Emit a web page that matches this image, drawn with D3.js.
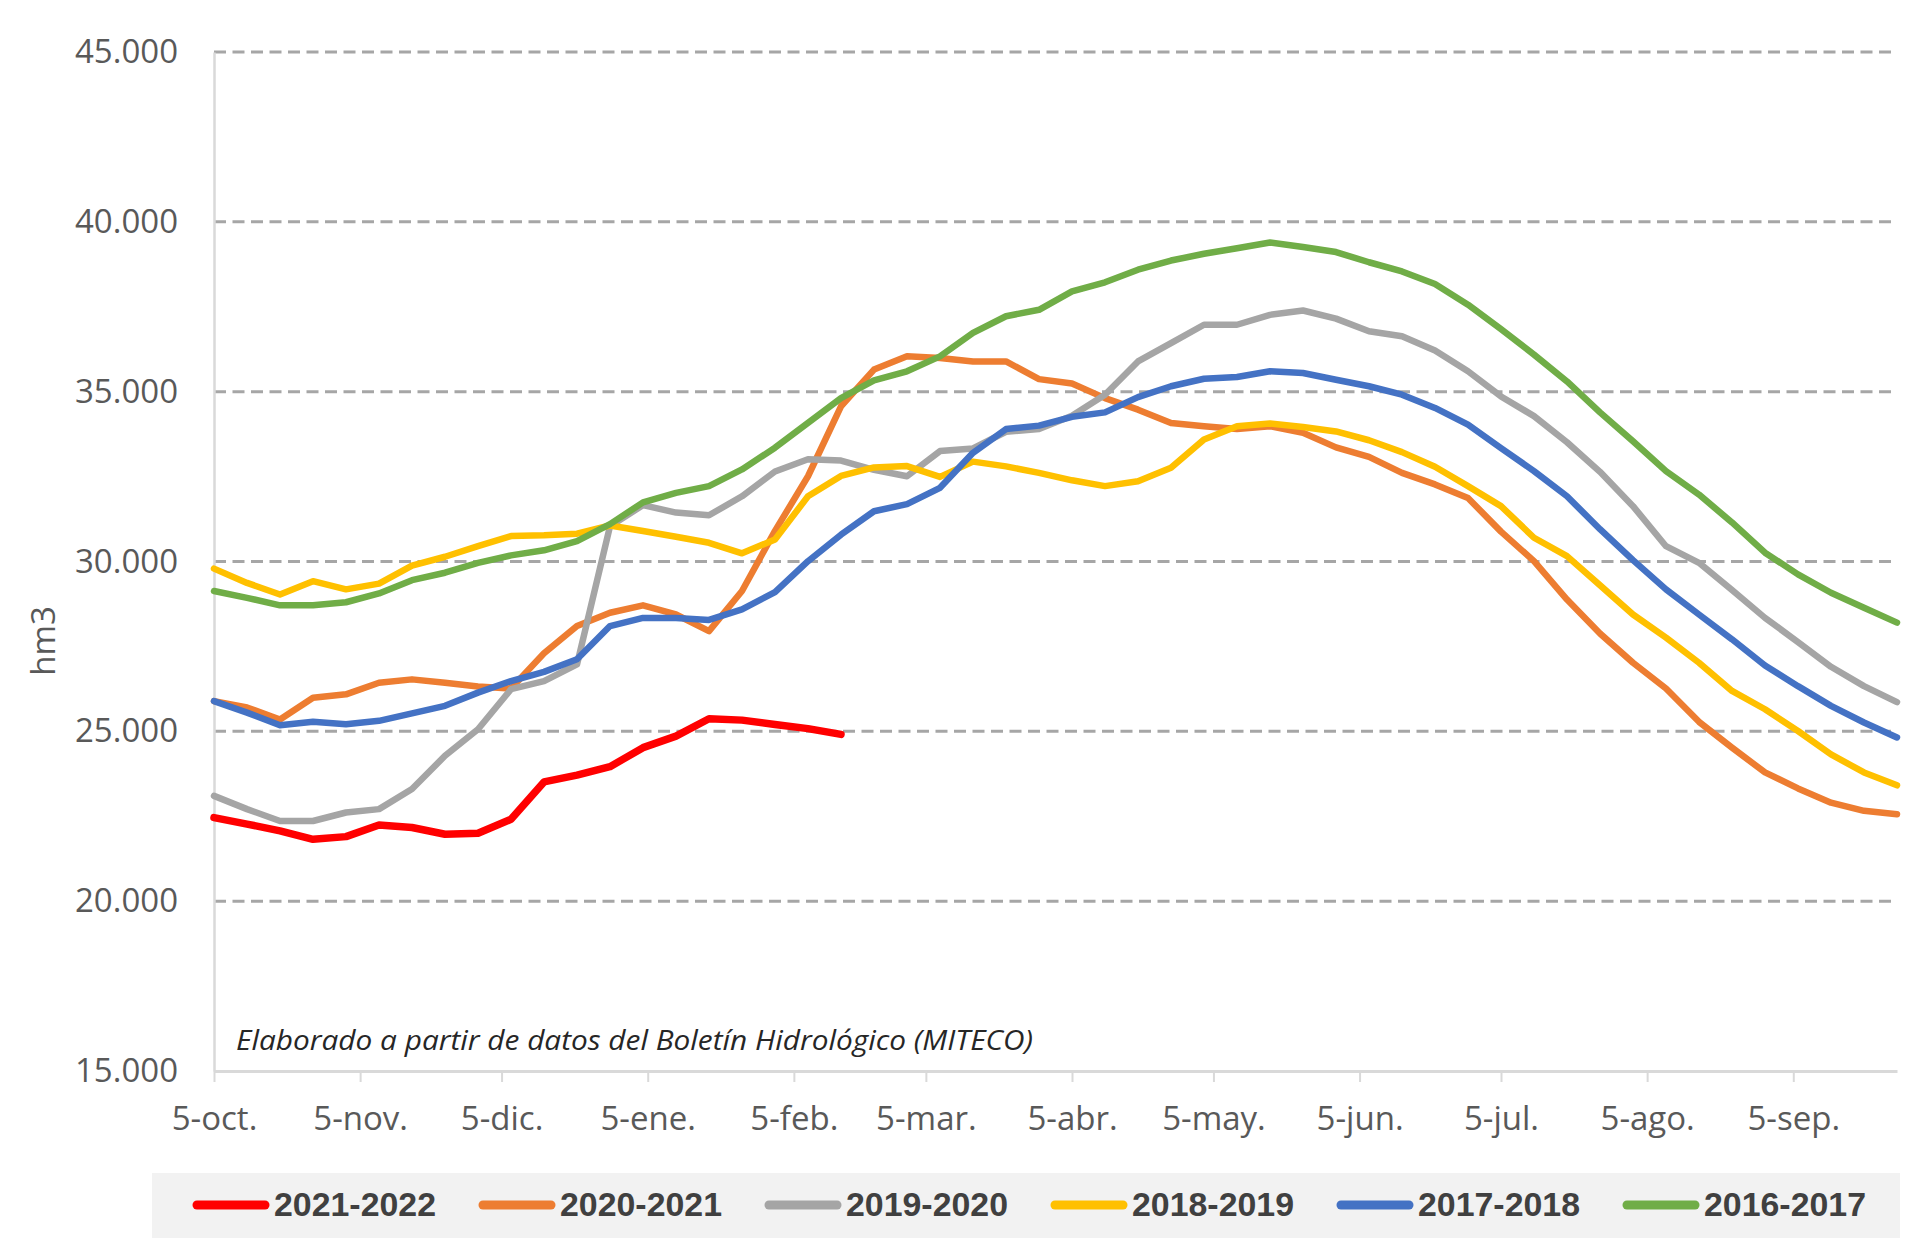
<!DOCTYPE html>
<html>
<head>
<meta charset="utf-8">
<script src="https://cdn.jsdelivr.net/npm/d3@7"></script>
<style>
  html, body { margin: 0; padding: 0; background: #fff; }
  svg { display: block; }
</style>
</head>
<body>
<svg id="chart" width="1920" height="1250"></svg>
<script>
const seasons = ['2021-2022', '2020-2021', '2019-2020', '2018-2019', '2017-2018', '2016-2017']
const colors = ['#ff0000', '#ed7d31', '#a5a5a5', '#ffc000', '#4472c4', '#70ad47']

const s2021 = [22460, 22270, 22070, 21820, 21900, 22240, 22170, 21970, 22000, 22410, 23510, 23710,
  23960, 24520, 24860, 25370, 25330, 25200, 25080, 24910]
const s2020 = [25890, 25700, 25350, 25990, 26090, 26430, 26530, 26430, 26320, 26260, 27300, 28100,
  28490, 28710, 28440, 27950, 29130, 30900, 32510, 34570, 35650, 36040, 35990, 35890,
  35890, 35370, 35240, 34810, 34470, 34080, 33980, 33900, 33980, 33790,
  33360, 33080, 32610, 32270, 31870, 30880, 30010, 28880, 27880, 27020,
  26260, 25280, 24520, 23790, 23320, 22900, 22660, 22560]
const s2019 = [23100, 22710, 22360, 22360, 22610, 22710, 23300, 24280, 25060, 26240, 26480, 26970,
  31040, 31660, 31440, 31360, 31920, 32650, 33010, 32970, 32700, 32510, 33250, 33330,
  33820, 33900, 34290, 34910, 35890, 36430, 36970, 36970, 37260, 37390,
  37150, 36780, 36630, 36210, 35600, 34860, 34280, 33510, 32640, 31630,
  30450, 29960, 29160, 28340, 27630, 26900, 26330, 25860]
const s2018 = [29790, 29370, 29030, 29420, 29180, 29350, 29880, 30140, 30450, 30750, 30770, 30820,
  31060, 30900, 30730, 30550, 30240, 30650, 31920, 32520, 32770, 32810, 32490, 32940,
  32800, 32610, 32390, 32220, 32360, 32760, 33590, 33980, 34060, 33960,
  33830, 33570, 33220, 32790, 32220, 31630, 30700, 30160, 29300, 28440,
  27760, 27020, 26190, 25650, 25010, 24320, 23790, 23410]
const s2017 = [25890, 25550, 25180, 25280, 25210, 25310, 25530, 25750, 26140, 26480, 26750, 27120,
  28100, 28340, 28340, 28280, 28590, 29100, 30010, 30790, 31480, 31690, 32170, 33200,
  33900, 34000, 34260, 34390, 34840, 35160, 35380, 35430, 35600, 35550,
  35350, 35160, 34910, 34520, 34030, 33340, 32660, 31920, 30950, 30040,
  29180, 28440, 27710, 26940, 26330, 25750, 25260, 24820]
const s2016 = [29130, 28930, 28710, 28710, 28800, 29060, 29450, 29670, 29960, 30180, 30330, 30600,
  31100, 31740, 32020, 32220, 32710, 33350, 34080, 34810, 35330, 35600, 36040, 36730,
  37220, 37410, 37950, 38220, 38590, 38860, 39060, 39220, 39390, 39260,
  39110, 38810, 38540, 38170, 37560, 36840, 36090, 35300, 34390, 33540,
  32660, 31970, 31150, 30260, 29620, 29080, 28640, 28200]
const seriesValues = [s2021, s2020, s2019, s2018, s2017, s2016]

const monthLabels = ['5-oct.', '5-nov.', '5-dic.', '5-ene.', '5-feb.', '5-mar.', '5-abr.', '5-may.', '5-jun.', '5-jul.', '5-ago.', '5-sep.']
const yTicks = [15000, 20000, 25000, 30000, 35000, 40000, 45000]

let start = new Date(2021, 9, 5)
let weeks = d3.range(52).map(i => d3.timeDay.offset(start, 7 * i))
let monthTicks = monthLabels.map((l, i) => new Date(2021, 9 + i, 5))

let svg = d3.select('#chart')
let plotLeft = 214, plotRight = 1897, plotTop = 52, plotBottom = 1071

let x = d3.scaleTime().domain([weeks[0], weeks[weeks.length - 1]]).range([plotLeft, plotRight])
let y = d3.scaleLinear().domain([15000, 45000]).range([plotBottom, plotTop])
let fmt = d3.formatLocale({ decimal: ',', thousands: '.', grouping: [3] }).format(',d')

// grid
svg.append('g')
  .selectAll('line')
  .data(yTicks.slice(1))
  .enter()
  .append('line')
  .attr('x1', plotLeft).attr('x2', plotRight)
  .attr('y1', d => y(d)).attr('y2', d => y(d))
  .attr('stroke', '#a6a6a6')
  .attr('stroke-width', 3)
  .attr('stroke-dasharray', '12,6.5')

// y axis
let yAxis = svg.append('g')
  .attr('transform', `translate(${plotLeft},0)`)
  .call(d3.axisLeft(y).tickValues(yTicks).tickSize(0).tickPadding(36).tickFormat(fmt))
yAxis.select('.domain').attr('stroke', '#d9d9d9').attr('stroke-width', 2.5)
yAxis.selectAll('text')
  .attr('font-family', 'Open Sans')
  .attr('font-size', 33)
  .attr('fill', '#595959')

// x axis
let xAxis = svg.append('g')
  .attr('transform', `translate(0,${plotBottom})`)
  .call(d3.axisBottom(x).tickValues(monthTicks).tickSizeInner(11).tickSizeOuter(0).tickPadding(25)
    .tickFormat((d, i) => monthLabels[i]))
xAxis.select('.domain').attr('stroke', '#d9d9d9').attr('stroke-width', 3)
xAxis.selectAll('.tick line').attr('stroke', '#d9d9d9').attr('stroke-width', 2)
xAxis.selectAll('text')
  .attr('font-family', 'Open Sans')
  .attr('font-size', 33)
  .attr('fill', '#595959')

svg.append('text')
  .attr('transform', 'translate(55,641) rotate(-90)')
  .attr('text-anchor', 'middle')
  .attr('font-family', 'Open Sans')
  .attr('font-size', 33)
  .attr('fill', '#595959')
  .text('hm3')

svg.append('text')
  .attr('x', 236).attr('y', 1050)
  .attr('font-family', 'Open Sans')
  .attr('font-style', 'italic')
  .attr('font-size', 27)
  .attr('fill', '#262626')
  .attr('textLength', 797)
  .attr('lengthAdjust', 'spacingAndGlyphs')
  .text('Elaborado a partir de datos del Boletín Hidrológico (MITECO)')

// series
let line = d3.line().x((d, i) => x(weeks[i])).y(d => y(d))
svg.append('g')
  .selectAll('path')
  .data(seriesValues)
  .enter()
  .append('path')
  .attr('d', d => line(d))
  .attr('fill', 'none')
  .attr('stroke', (d, i) => colors[i])
  .attr('stroke-width', (d, i) => i === 0 ? 7.5 : 6.5)
  .attr('stroke-linejoin', 'round')
  .attr('stroke-linecap', 'round')

// legend
svg.append('rect')
  .attr('x', 152).attr('y', 1173)
  .attr('width', 1748).attr('height', 65)
  .attr('fill', '#f2f2f2')

let item = svg.append('g')
  .selectAll('g')
  .data(seasons)
  .enter()
  .append('g')
  .attr('transform', (d, i) => `translate(${193 + i * 286},1205)`)
item.append('line')
  .attr('x1', 4).attr('x2', 72)
  .attr('stroke', (d, i) => colors[i])
  .attr('stroke-width', 9)
  .attr('stroke-linecap', 'round')
item.append('text')
  .attr('x', 81).attr('y', 11)
  .attr('font-family', 'Liberation Sans')
  .attr('font-weight', 'bold')
  .attr('font-size', 33)
  .attr('fill', '#404040')
  .attr('textLength', 162)
  .attr('lengthAdjust', 'spacingAndGlyphs')
  .text(d => d)
</script>
</body>
</html>
